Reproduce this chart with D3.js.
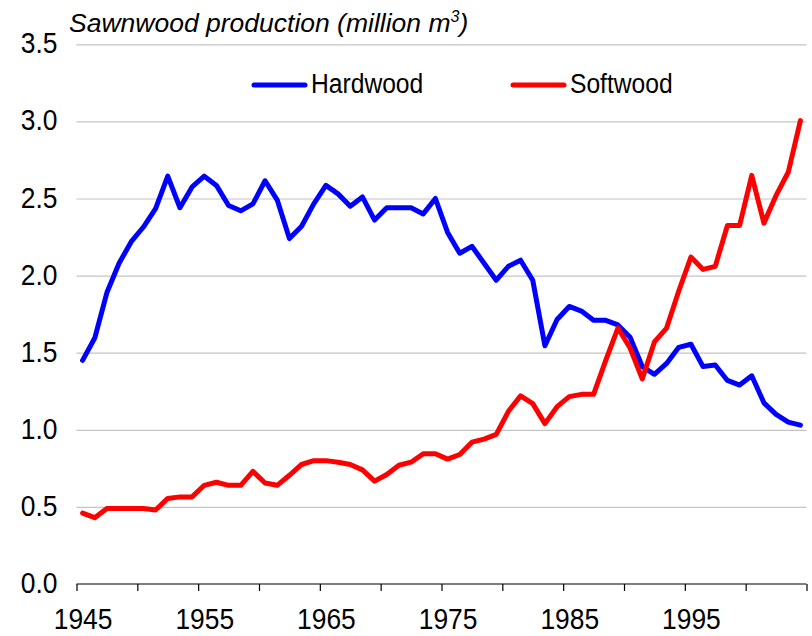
<!DOCTYPE html>
<html>
<head>
<meta charset="utf-8">
<script src="https://cdn.jsdelivr.net/npm/d3@7"></script>
<style>
  html, body { margin: 0; padding: 0; background: #fff; }
  svg { display: block; font-family: "Liberation Sans", Arial, sans-serif; }
</style>
</head>
<body>
<svg id="chart" width="812" height="636"></svg>
<script>
// ---- data ----
const years = d3.range(1945, 2005);
const hardwood = [
  1.45, 1.595, 1.89, 2.08, 2.22, 2.315, 2.435, 2.645, 2.44, 2.575,
  2.645, 2.585, 2.455, 2.42, 2.465, 2.615, 2.49, 2.24, 2.32, 2.465,
  2.585, 2.53, 2.45, 2.51, 2.36, 2.44, 2.44, 2.44, 2.40, 2.50,
  2.28, 2.145, 2.19, 2.08, 1.97, 2.06, 2.10, 1.97, 1.545, 1.715,
  1.80, 1.77, 1.71, 1.71, 1.68, 1.60, 1.41, 1.36, 1.43, 1.535,
  1.555, 1.41, 1.42, 1.32, 1.29, 1.35, 1.175, 1.10, 1.05, 1.03
];
const softwood = [
  0.46, 0.43, 0.49, 0.49, 0.49, 0.49, 0.48, 0.555, 0.565, 0.565,
  0.64, 0.66, 0.64, 0.64, 0.73, 0.655, 0.64, 0.705, 0.775, 0.80,
  0.80, 0.79, 0.775, 0.74, 0.667, 0.71, 0.77, 0.79, 0.845, 0.845,
  0.81, 0.84, 0.92, 0.94, 0.97, 1.12, 1.22, 1.17, 1.04, 1.15,
  1.215, 1.23, 1.23, 1.45, 1.66, 1.53, 1.33, 1.57, 1.66, 1.90,
  2.12, 2.04, 2.06, 2.325, 2.325, 2.65, 2.34, 2.52, 2.67, 3.005
];
const seriesNames = ["Hardwood", "Softwood"];
const seriesColors = ["#0000ff", "#ff0000"];
const yTicks = [0, 0.5, 1.0, 1.5, 2.0, 2.5, 3.0, 3.5];
const xTickYears = d3.range(1945, 2006, 5);
const xLabelYears = [1945, 1955, 1965, 1975, 1985, 1995];
const titleText = "Sawnwood production (million m";

// ---- layout ----
const svg = d3.select("#chart");
const plotL = 76.5, plotR = 806.5, plotT = 44.3, plotB = 584;
const SX = 0.88; // horizontal compression of text

const x = d3.scaleLinear().domain([1945, 2005]).range([plotL, plotR]);
const y = d3.scaleLinear().domain([0, 3.5]).range([plotB, plotT]);
const xc = yr => x(yr + 0.5);

// gridlines + y labels
const yAxis = d3.axisLeft(y).tickValues(yTicks).tickFormat(d3.format(".1f"))
  .tickSize(-(plotR - plotL)).tickPadding(0);
const gy = svg.append("g").attr("transform", `translate(${plotL},0)`).call(yAxis);
gy.select(".domain").remove();
gy.selectAll(".tick line").attr("stroke", "#c4c4c4").attr("stroke-width", 1.2)
  .filter(d => d === 0).remove();
gy.selectAll(".tick text")
  .attr("x", 0).attr("dy", null).attr("y", 0)
  .attr("transform", `translate(-19,8.5) scale(${SX},1)`)
  .attr("text-anchor", "end")
  .attr("fill", "#000")
  .style("font-size", "30px")
  .style("font-family", "'Liberation Sans', Arial, sans-serif");

// x axis line + ticks
const xAxisTicks = d3.axisBottom(x).tickValues(xTickYears).tickSize(7).tickFormat("");
const gx = svg.append("g").attr("transform", `translate(0,${plotB})`).call(xAxisTicks);
gx.select(".domain").attr("stroke", "#000").attr("stroke-width", 1.2)
  .attr("d", `M${plotL},0H${plotR}`);
gx.selectAll(".tick line").attr("stroke", "#000").attr("stroke-width", 1.2);

// x labels at category centres
const xAxisLabels = d3.axisBottom(x).tickValues(xLabelYears.map(v => v + 0.5))
  .tickSize(0).tickFormat(d => String(Math.floor(d)));
const gxl = svg.append("g").attr("transform", `translate(0,${plotB})`).call(xAxisLabels);
gxl.select(".domain").remove();
gxl.selectAll(".tick text")
  .attr("y", 0).attr("dy", null)
  .attr("transform", `translate(0,45) scale(${SX},1)`)
  .attr("fill", "#000")
  .style("font-size", "30px")
  .style("font-family", "'Liberation Sans', Arial, sans-serif");

// lines
const line = d3.line().x((d, i) => xc(years[i])).y(d => y(d));
[hardwood, softwood].forEach((vals, k) => {
  svg.append("path").datum(vals)
    .attr("d", line)
    .attr("fill", "none")
    .attr("stroke", seriesColors[k])
    .attr("stroke-width", 5)
    .attr("stroke-linejoin", "round")
    .attr("stroke-linecap", "round");
});

// title
const t = svg.append("text")
  .attr("transform", `translate(69,31.5)`)
  .style("font-size", "26.5px").style("font-style", "italic")
  .attr("fill", "#000");
t.append("tspan").text(titleText);
t.append("tspan").text("3").attr("dy", -10).style("font-size", "16px");
t.append("tspan").text(")").attr("dy", 10);

// legend
const legendPos = [{lx: 254, tx: 311}, {lx: 513, tx: 570}];
seriesNames.forEach((name, k) => {
  const p = legendPos[k];
  svg.append("line")
    .attr("x1", p.lx).attr("x2", p.lx + 51).attr("y1", 85).attr("y2", 85)
    .attr("stroke", seriesColors[k]).attr("stroke-width", 5).attr("stroke-linecap", "round");
  svg.append("text")
    .attr("transform", `translate(${p.tx},93) scale(${SX},1)`)
    .style("font-size", "28px").attr("fill", "#000")
    .text(name);
});
</script>
</body>
</html>
